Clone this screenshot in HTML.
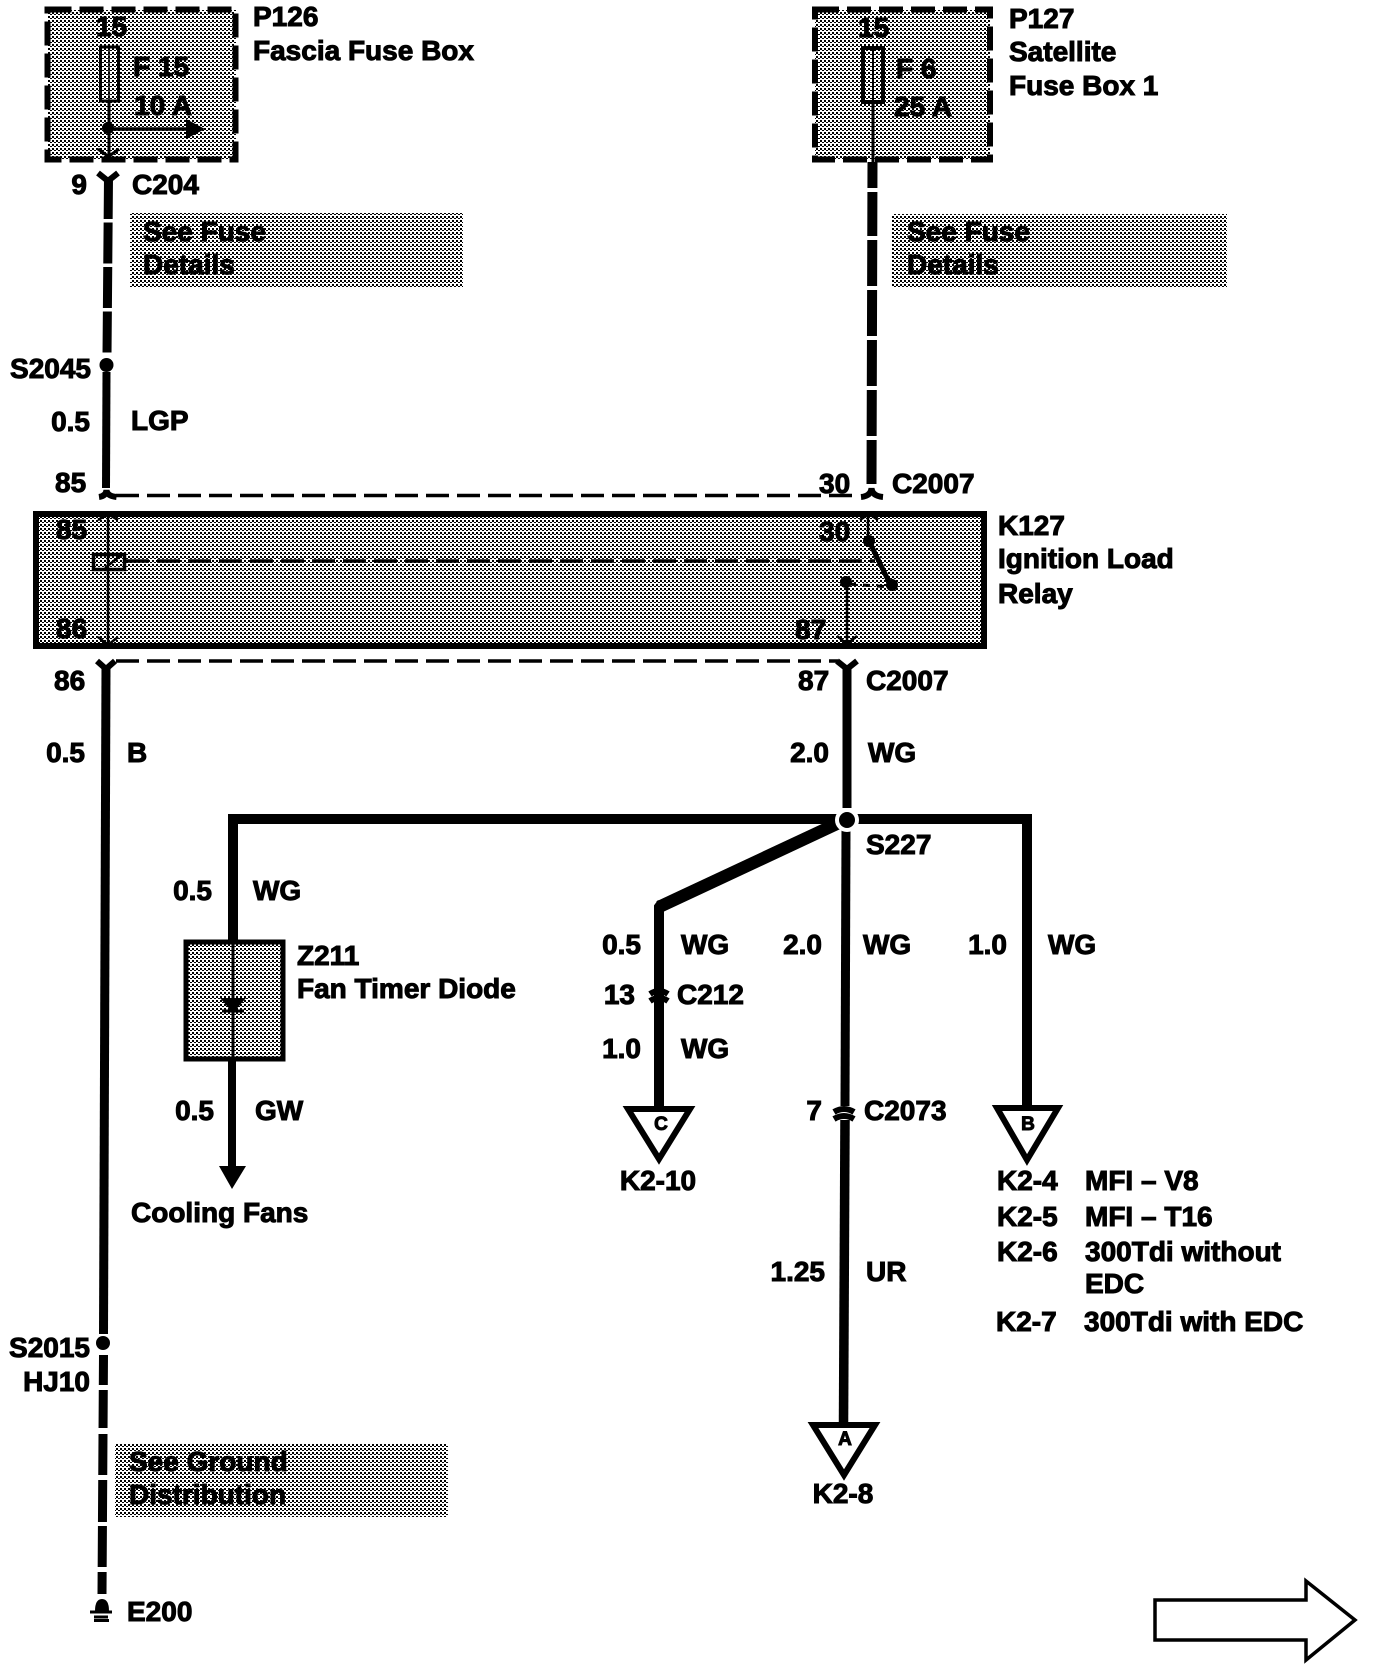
<!DOCTYPE html>
<html><head><meta charset="utf-8"><style>
html,body{margin:0;padding:0;background:#fff;width:1376px;height:1668px;overflow:hidden}
svg{display:block}
text{font-family:"Liberation Sans",sans-serif;font-weight:bold;font-size:28px;fill:#000;stroke:#000;stroke-width:1}
.e{text-anchor:end}.m{text-anchor:middle}
.s{font-size:19px}
</style></head><body>
<svg width="1376" height="1668" viewBox="0 0 1376 1668" xmlns="http://www.w3.org/2000/svg">
<defs><pattern id="d" width="4" height="4" patternUnits="userSpaceOnUse"><rect width="4" height="4" fill="#fff"/><rect width="2" height="2" fill="#000"/><rect x="2" y="2" width="2" height="1" fill="#000"/></pattern></defs>
<rect width="1376" height="1668" fill="#fff"/>

<!-- shaded regions -->
<rect x="48" y="10" width="188" height="149" fill="url(#d)" shape-rendering="crispEdges"/>
<rect x="815" y="10" width="175" height="149" fill="url(#d)" shape-rendering="crispEdges"/>
<rect x="130" y="213" width="333" height="74" fill="url(#d)" shape-rendering="crispEdges"/>
<rect x="892" y="214" width="335" height="74" fill="url(#d)" shape-rendering="crispEdges"/>
<rect x="115" y="1444" width="333" height="73" fill="url(#d)" shape-rendering="crispEdges"/>
<rect x="36" y="514" width="948" height="132" fill="url(#d)" shape-rendering="crispEdges"/>
<rect x="187" y="942" width="96" height="117" fill="url(#d)" shape-rendering="crispEdges"/>

<g fill="none" stroke="#000">
<!-- dashed fuse boxes -->
<rect x="47.500" y="9.500" width="188" height="150" stroke-width="6" stroke-dasharray="24 8"/>
<rect x="815" y="9.500" width="175" height="150" stroke-width="6" stroke-dasharray="24 8"/>
<!-- fuses -->
<rect x="100.500" y="47" width="18" height="54" stroke-width="3"/>
<line x1="109" y1="47" x2="109" y2="100" stroke-width="1.500"/>
<rect x="863" y="48" width="20" height="54" stroke-width="4"/>
<line x1="873" y1="48" x2="873" y2="101" stroke-width="2"/>
<!-- P126 inner wire -->
<path d="M109 100V156M98 149l10.500 7.500 10.500-7.500" stroke-width="3"/>
<line x1="108" y1="129" x2="190" y2="129" stroke-width="3.500"/>
<!-- P127 inner wire -->
<line x1="873" y1="100" x2="873" y2="162" stroke-width="3"/>
<!-- C204 -->
<path d="M98 173l10 8 10-8" stroke-width="6"/>
<line x1="108.500" y1="178" x2="107" y2="355" stroke-width="9" stroke-dasharray="41 3.500"/>
<line x1="106.500" y1="372" x2="106" y2="488" stroke-width="8"/>
<path d="M99 497q7-1 7.500-7 .5 6 10 7" stroke-width="6"/>
<!-- right top wire -->
<line x1="872.500" y1="162" x2="871.500" y2="484" stroke-width="10" stroke-dasharray="26 4 44 4 46 4 46 4 46 4 46 4 46 4"/>
<path d="M861 497q10-1 10.500-9 .5 8 11.500 9" stroke-width="6"/>
<!-- top dashed -->
<line x1="116" y1="495.500" x2="860" y2="495.500" stroke-width="3.500" stroke-dasharray="23 8"/>
<!-- K127 -->
<rect x="36" y="514" width="948" height="132" stroke-width="6"/>
<path d="M98 520l10-6 10 6M108 514V645M98 637l10 8 10-8" stroke-width="2.500"/>
<rect x="93.500" y="554.500" width="31" height="15" stroke-width="3.500"/>
<line x1="105" y1="568" x2="120" y2="556" stroke-width="2.500"/>
<line x1="126" y1="561" x2="875" y2="561" stroke-width="3.500" stroke-dasharray="23 8"/>
<path d="M860 520l9-6 9 6M868 514V540" stroke-width="2.500"/>
<line x1="869" y1="541" x2="890" y2="584" stroke-width="5"/>
<line x1="849" y1="584" x2="890" y2="587" stroke-width="3" stroke-dasharray="7 7"/>
<path d="M847 582V645M837 636l10 8 10-8" stroke-width="2.500"/>
<!-- bottom dashed -->
<line x1="116" y1="661" x2="838" y2="661" stroke-width="3.500" stroke-dasharray="23 8"/>
<path d="M97 661l9 8 9-8" stroke-width="6"/>
<path d="M837 661l10 8 10-8" stroke-width="6"/>
<!-- left long wire -->
<line x1="106" y1="665" x2="103.500" y2="1334" stroke-width="9"/>
<line x1="103.500" y1="1355" x2="102" y2="1594" stroke-width="9" stroke-dasharray="30 5 38 6 41 5 42 4 41 5 22"/>
<!-- main right wire -->
<line x1="847" y1="665" x2="847" y2="808" stroke-width="9"/>
<path d="M233 943V819H1027V1110" stroke-width="10" stroke-linejoin="miter"/>
<path d="M845 820L659 907" stroke-width="12.500"/>
<path d="M662 903L659 907V1108" stroke-width="10" stroke-linejoin="miter"/>
<line x1="846" y1="828" x2="845" y2="1106" stroke-width="9"/>
<line x1="845" y1="1120" x2="843.500" y2="1425" stroke-width="9.500"/>
<!-- Z211 -->
<rect x="186" y="942" width="97" height="117" stroke-width="5"/>
<line x1="233" y1="938" x2="233" y2="1060" stroke-width="3"/>
<line x1="222" y1="1011" x2="244" y2="1011" stroke-width="3"/>
<line x1="232" y1="1059" x2="232" y2="1170" stroke-width="8"/>
<!-- connectors -->
<path d="M650 994q9-6 18 0" stroke-width="6"/>
<path d="M650 1001q9-6 18 0" stroke-width="6"/>
<path d="M834 1112q10-6 20 0" stroke-width="6"/>
<path d="M834 1119q10-6 20 0" stroke-width="6"/>
<!-- off-page triangles -->
<path d="M628 1109H690L659 1159Z" fill="#fff" stroke-width="6"/>
<path d="M997 1108H1058L1027 1160Z" fill="#fff" stroke-width="6"/>
<path d="M813 1425H875L844 1475Z" fill="#fff" stroke-width="6"/>
<!-- page arrow -->
<path d="M1155 1600H1306V1581L1355 1620L1306 1660V1640H1155Z" fill="#fff" stroke-width="3.500"/>
<!-- ground -->
<path d="M90 1612H112M94 1617H108" stroke-width="3"/>
</g>

<g fill="#000">
<circle cx="108" cy="128" r="6"/>
<path d="M186 119L205 129L186 139Z"/>
<circle cx="106.500" cy="365" r="7"/>
<circle cx="869" cy="541" r="6"/>
<circle cx="892" cy="585" r="6"/>
<circle cx="846" cy="582" r="6"/>
<circle cx="847" cy="820" r="12" fill="#fff"/>
<circle cx="847" cy="820" r="8"/>
<path d="M220 998H246L233 1013Z"/>
<path d="M219 1166H246L232 1189Z"/>
<circle cx="103" cy="1343" r="7"/>
<path d="M95 1611q0-12 7-12t7 12Z"/>
<rect x="94" y="1619" width="15" height="3"/>
</g>

<!-- labels -->
<text x="96" y="36">15</text>
<text x="133" y="76">F 15</text>
<text x="134" y="115">10 A</text>
<text x="253" y="26">P126</text>
<text x="253" y="60">Fascia Fuse Box</text>
<text x="858" y="37">15</text>
<text x="896" y="78">F 6</text>
<text x="894" y="116">25 A</text>
<text x="1009" y="28">P127</text>
<text x="1009" y="61">Satellite</text>
<text x="1009" y="95">Fuse Box 1</text>
<text x="87" y="194" class="e">9</text>
<text x="132" y="194">C204</text>
<text x="143" y="241">See Fuse</text>
<text x="143" y="274">Details</text>
<text x="907" y="241">See Fuse</text>
<text x="907" y="274">Details</text>
<text x="91" y="378" class="e">S2045</text>
<text x="90" y="431" class="e">0.5</text>
<text x="131" y="430">LGP</text>
<text x="55" y="492">85</text>
<text x="819" y="493">30</text>
<text x="892" y="493">C2007</text>
<text x="56" y="539">85</text>
<text x="56" y="638">86</text>
<text x="819" y="541">30</text>
<text x="795" y="639">87</text>
<text x="998" y="535">K127</text>
<text x="998" y="568">Ignition Load</text>
<text x="998" y="603">Relay</text>
<text x="54" y="690">86</text>
<text x="798" y="690">87</text>
<text x="866" y="690">C2007</text>
<text x="85" y="762" class="e">0.5</text>
<text x="127" y="762">B</text>
<text x="829" y="762" class="e">2.0</text>
<text x="868" y="762">WG</text>
<text x="866" y="854">S227</text>
<text x="212" y="900" class="e">0.5</text>
<text x="253" y="900">WG</text>
<text x="297" y="965">Z211</text>
<text x="297" y="998">Fan Timer Diode</text>
<text x="214" y="1120" class="e">0.5</text>
<text x="255" y="1120">GW</text>
<text x="131" y="1222">Cooling Fans</text>
<text x="641" y="954" class="e">0.5</text>
<text x="681" y="954">WG</text>
<text x="635" y="1004" class="e">13</text>
<text x="677" y="1004">C212</text>
<text x="641" y="1058" class="e">1.0</text>
<text x="681" y="1058">WG</text>
<text x="661" y="1130" class="m s">C</text>
<text x="658" y="1190" class="m">K2-10</text>
<text x="822" y="954" class="e">2.0</text>
<text x="863" y="954">WG</text>
<text x="1007" y="954" class="e">1.0</text>
<text x="1048" y="954">WG</text>
<text x="822" y="1120" class="e">7</text>
<text x="864" y="1120">C2073</text>
<text x="1028" y="1130" class="m s">B</text>
<text x="825" y="1281" class="e">1.25</text>
<text x="866" y="1281">UR</text>
<text x="845" y="1445" class="m s">A</text>
<text x="843" y="1503" class="m">K2-8</text>
<text x="997" y="1190">K2-4</text><text x="1085" y="1190">MFI – V8</text>
<text x="997" y="1226">K2-5</text><text x="1085" y="1226">MFI – T16</text>
<text x="997" y="1261">K2-6</text><text x="1085" y="1261">300Tdi without</text>
<text x="1085" y="1293">EDC</text>
<text x="996" y="1331">K2-7</text><text x="1084" y="1331">300Tdi with EDC</text>
<text x="90" y="1357" class="e">S2015</text>
<text x="90" y="1391" class="e">HJ10</text>
<text x="129" y="1471">See Ground</text>
<text x="129" y="1504">Distribution</text>
<text x="127" y="1621">E200</text>
</svg>
</body></html>
